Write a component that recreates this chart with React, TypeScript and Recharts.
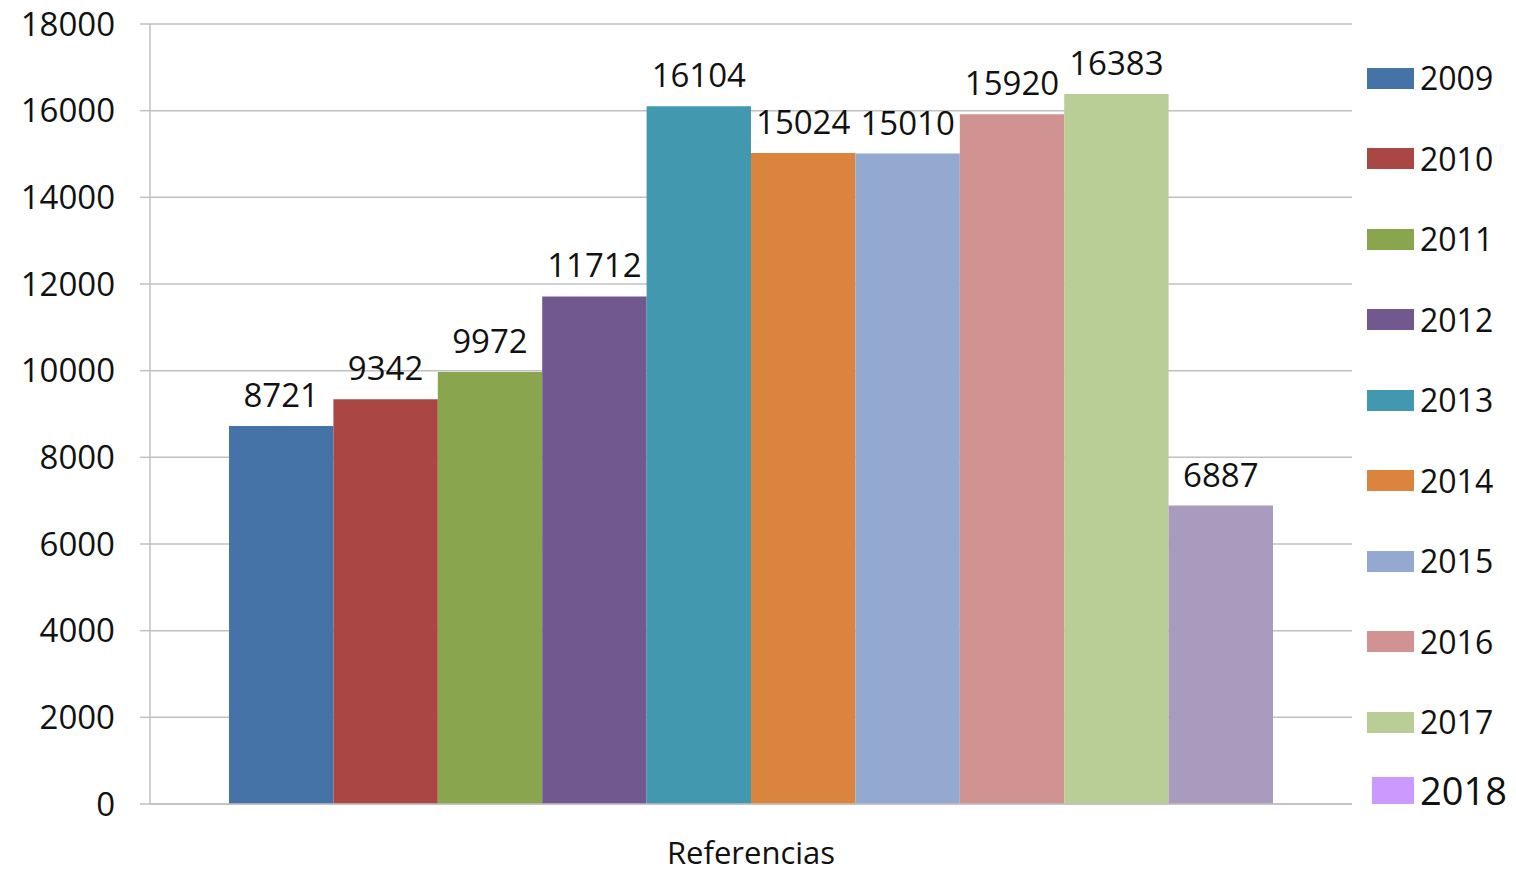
import { Bar, BarChart, CartesianGrid, LabelList, Legend, XAxis, YAxis } from "recharts";

const categories = ["Referencias"];
const years = ["2009", "2010", "2011", "2012", "2013", "2014", "2015", "2016", "2017", "2018"];
const values = [8721, 9342, 9972, 11712, 16104, 15024, 15010, 15920, 16383, 6887];
const barColors = [
  "#4572A7", "#AA4643", "#89A54E", "#71588F", "#4198AF",
  "#DB843D", "#93A9CF", "#D19392", "#B9CD96", "#A99BBD",
];
const legendColors = [
  "#4572A7", "#AA4643", "#89A54E", "#71588F", "#4198AF",
  "#DB843D", "#93A9CF", "#D19392", "#B9CD96", "#CC99FF",
];
const yTicks = [0, 2000, 4000, 6000, 8000, 10000, 12000, 14000, 16000, 18000];

const chartData = categories.map((name) => {
  const row: Record<string, string | number> = { name };
  years.forEach((year, i) => {
    row[year] = values[i];
  });
  return row;
});

const FONT = "'Open Sans', 'Noto Sans', sans-serif";
const GRID = "#c0c0c0";

function LegendBox() {
  return (
    <div style={{ position: "relative", width: 149, height: 872, fontFamily: FONT }}>
      {years.map((year, i) => {
        const last = i === years.length - 1;
        const cy = last ? 790 : 78 + i * 80.5;
        const h = last ? 27 : 21;
        return (
          <div key={year} style={{ position: "absolute", left: 0, top: cy - 25, height: 50, display: "flex", alignItems: "center" }}>
            <div
              style={{
                marginLeft: last ? 5 : 0,
                width: last ? 42 : 47,
                height: h,
                background: legendColors[i],
              }}
            />
            <span style={{ marginLeft: 6, fontSize: last ? 38 : 32, color: "#111", lineHeight: "50px" }}>
              {year}
            </span>
          </div>
        );
      })}
    </div>
  );
}

export default function App() {
  return (
    <div style={{ position: "absolute", left: 0, top: 0, background: "#fff" }}>
      <BarChart
        width={1516}
        height={872}
        data={chartData}
        margin={{ top: 24, right: 164, left: 0, bottom: 0 }}
        barSize={104.4}
        barGap={0}
      >
        <CartesianGrid vertical={false} stroke={GRID} strokeWidth={1.5} />
        <XAxis
          dataKey="name"
          height={68}
          tickLine={false}
          tickSize={0}
          tickMargin={38}
          axisLine={{ stroke: GRID, strokeWidth: 1.5 }}
          tick={{ fill: "#111", fontSize: 31, fontFamily: FONT }}
        />
        <YAxis
          width={150}
          domain={[0, 18000]}
          ticks={yTicks}
          interval={0}
          tickSize={10}
          tickMargin={25}
          tickLine={{ stroke: GRID, strokeWidth: 1.5 }}
          axisLine={{ stroke: GRID, strokeWidth: 1.5 }}
          tick={{ fill: "#111", fontSize: 33, fontFamily: FONT }}
        />
        <Legend
          layout="vertical"
          align="center"
          verticalAlign="middle"
          wrapperStyle={{ position: "absolute", left: 1367, top: 0, width: 149, height: 872 }}
          content={() => <LegendBox />}
        />
        {years.map((year, i) => (
          <Bar key={year} dataKey={year} name={year} fill={barColors[i]} isAnimationActive={false}>
            <LabelList
              dataKey={year}
              position="top"
              offset={19}
              fill="#111"
              fontSize={33}
              fontFamily={FONT}
            />
          </Bar>
        ))}
      </BarChart>
    </div>
  );
}
